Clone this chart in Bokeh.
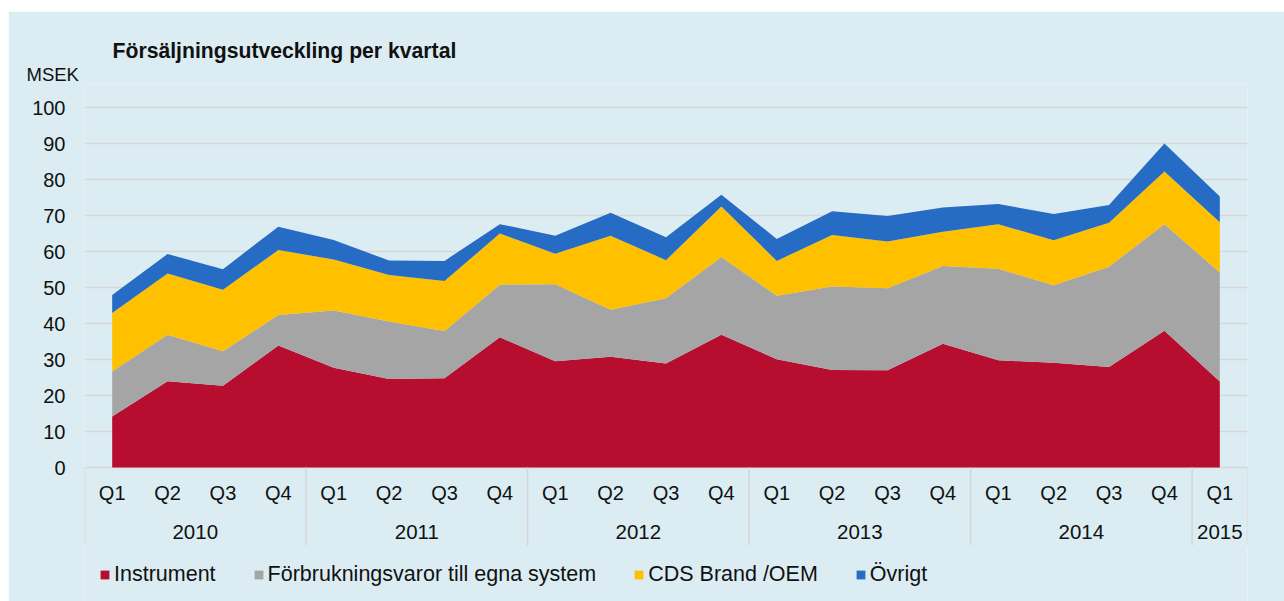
from bokeh.plotting import figure
from bokeh.models import Range1d, FixedTicker, Title, Legend, LegendItem, ColumnDataSource
from bokeh.embed import file_html
from bokeh.resources import INLINE
from bokeh.core.properties import value

# ---- data ----
years = ["2010"] * 4 + ["2011"] * 4 + ["2012"] * 4 + ["2013"] * 4 + ["2014"] * 4 + ["2015"]
quarters = ["Q1", "Q2", "Q3", "Q4"] * 5 + ["Q1"]

instrument = [14.2, 24.0, 22.7, 33.9, 27.7, 24.6, 24.8, 36.2, 29.5, 30.8, 28.9,
              36.9, 30.1, 27.1, 27.0, 34.4, 29.8, 29.1, 27.9, 38.0, 23.9]
forbrukning = [12.5, 12.9, 9.6, 8.5, 15.9, 16.0, 13.1, 14.6, 21.4, 13.0, 18.1,
               21.6, 17.6, 23.2, 22.8, 21.6, 25.4, 21.5, 27.9, 29.6, 30.3]
cds_brand = [16.2, 17.0, 17.1, 18.0, 14.2, 12.9, 13.9, 14.2, 8.5, 20.6, 10.6,
             14.0, 9.7, 14.3, 13.0, 9.5, 12.4, 12.5, 12.2, 14.6, 13.9]
ovrigt = [5.0, 5.4, 5.7, 6.5, 5.4, 4.0, 5.6, 2.6, 5.0, 6.4, 6.4,
          3.3, 6.1, 6.6, 7.1, 6.7, 5.6, 7.3, 4.9, 7.8, 7.2]

series_names = ["Instrument", "Förbrukningsvaror till egna system", "CDS Brand /OEM", "Övrigt"]
series_colors = ["#B70D2E", "#A5A5A5", "#FFC000", "#266BC4"]
y_ticks = [0, 10, 20, 30, 40, 50, 60, 70, 80, 90, 100]
title_text = "Försäljningsutveckling per kvartal"
unit_text = "MSEK"

# ---- styling ----
BG = "#DBEDF3"
GRID = "#D6D6D6"
FONT = "Liberation Sans"
TXT = "#111111"

n = len(quarters)
xc = [i + 0.5 for i in range(n)]
src = ColumnDataSource(dict(x=xc, s0=instrument, s1=forbrukning, s2=cds_brand, s3=ovrigt))

p = figure(width=1276, height=590, margin=(11, 0, 0, 8),
           x_range=Range1d(0, n), y_range=Range1d(-37.2, 106.39),
           output_backend="svg", toolbar_location=None, x_axis_location=None,
           min_border_left=76, min_border_right=37, min_border_top=73, min_border_bottom=0,
           background_fill_color=BG, border_fill_color=BG, outline_line_color=None)

renderers = p.varea_stack(["s0", "s1", "s2", "s3"], x="x", source=src, color=series_colors)

# y axis
p.yaxis.ticker = FixedTicker(ticks=y_ticks)
p.yaxis.axis_line_color = None
p.yaxis.major_tick_line_color = None
p.yaxis.minor_tick_line_color = None
p.yaxis.major_tick_out = 0
p.yaxis.major_tick_in = 0
p.yaxis.major_label_standoff = 19
p.yaxis.major_label_text_font = FONT
p.yaxis.major_label_text_font_size = "20px"
p.yaxis.major_label_text_color = TXT
p.ygrid.ticker = FixedTicker(ticks=y_ticks)
p.ygrid.grid_line_color = GRID
p.ygrid.grid_line_width = 1.5
p.ygrid.level = "underlay"
p.xgrid.visible = False

# category axis drawn inside frame
bounds = [0] + [i for i in range(1, n) if years[i] != years[i - 1]] + [n]
p.segment(x0=bounds, y0=[0] * len(bounds), x1=bounds, y1=[-21.6] * len(bounds),
          line_color=GRID, line_width=1.5)
p.text(x=xc, y=[-7.2] * n, text=quarters, text_align="center", text_baseline="middle",
       text_font=value(FONT), text_font_size="20px", text_color=TXT)
uniq_years = [years[b] for b in bounds[:-1]]
year_x = [(bounds[k] + bounds[k + 1]) / 2 for k in range(len(uniq_years))]
p.text(x=year_x, y=[-17.8] * len(uniq_years), text=uniq_years, text_align="center",
       text_baseline="middle", text_font=value(FONT), text_font_size="20.5px", text_color=TXT)

# titles (first added sits nearest the plot)
p.add_layout(Title(text=unit_text, align="left", offset=-58, standoff=0,
                   text_font=FONT, text_font_size="18.5px", text_font_style="normal",
                   text_color=TXT), "above")
p.add_layout(Title(text=title_text, align="left", offset=28, standoff=0,
                   text_font=FONT, text_font_size="21.2px", text_font_style="bold",
                   text_color=TXT), "above")

# legend
legend = Legend(items=[LegendItem(label=nm, renderers=[r]) for nm, r in zip(series_names, renderers)],
                orientation="horizontal", location=(15, 14),
                glyph_width=11, glyph_height=11, label_standoff=4, spacing=37,
                padding=0, margin=0, background_fill_alpha=0, border_line_color=None,
                label_text_font=FONT, label_text_font_size="21.5px", label_text_color=TXT)
p.add_layout(legend)

open("out.html", "w").write(file_html(p, INLINE))
